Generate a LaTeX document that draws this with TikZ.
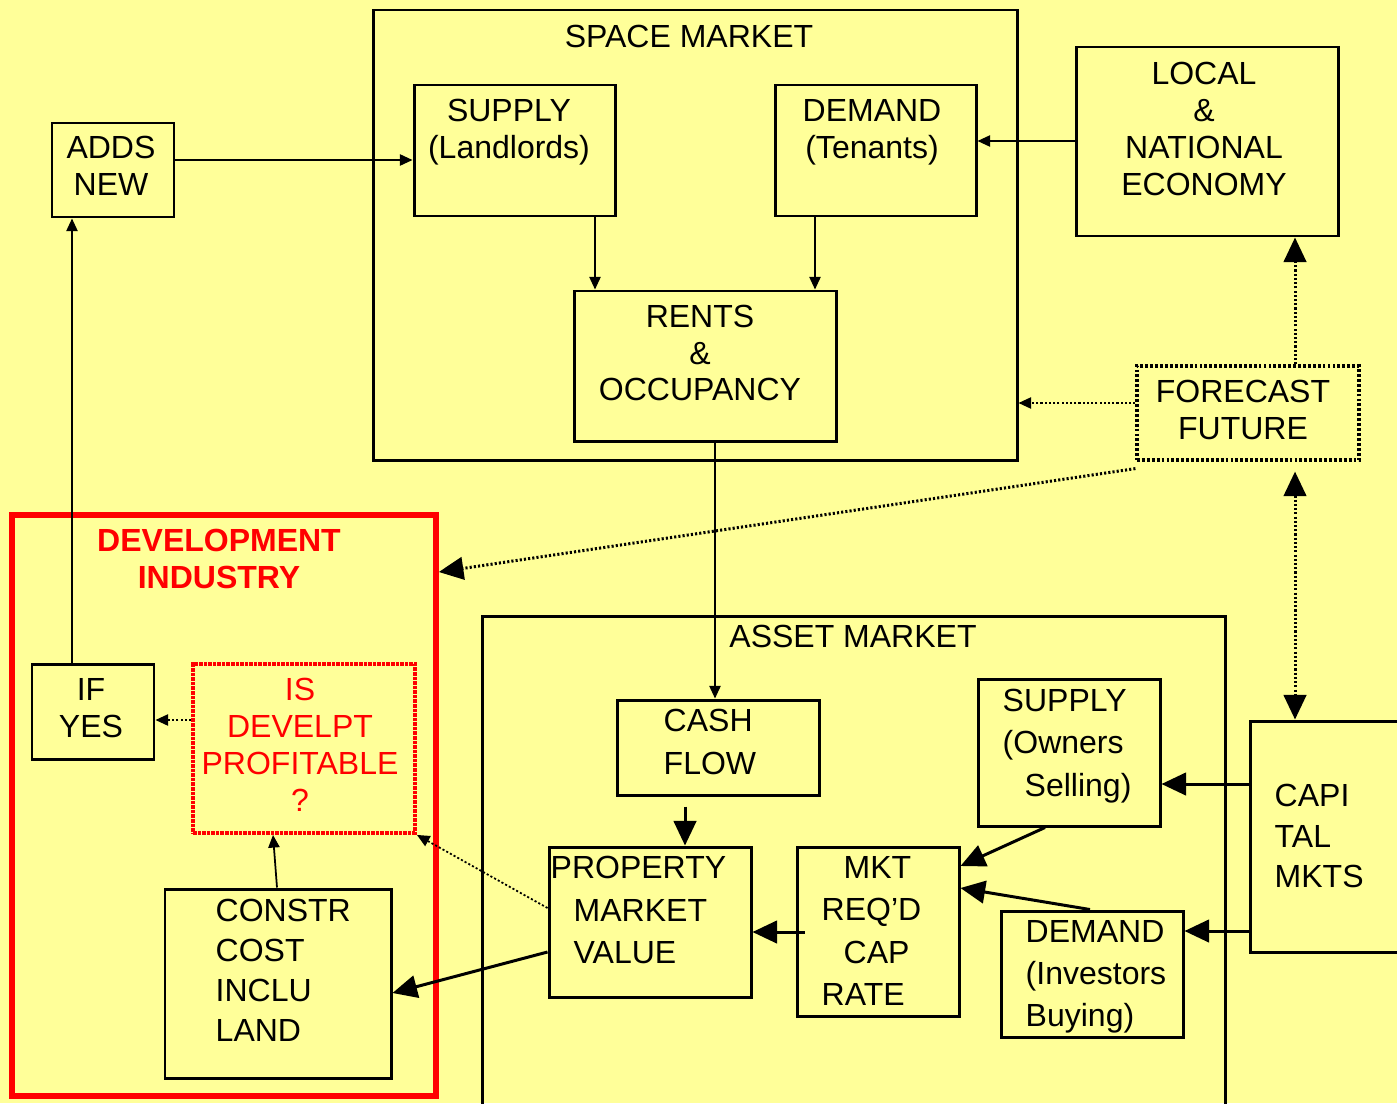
\documentclass[tikz,border=0pt]{standalone}
\usepackage{fontspec}
\setmainfont{Liberation Sans}
\usetikzlibrary{arrows.meta,fit}
\definecolor{sheetyellow}{RGB}{255,255,153}
\definecolor{devred}{RGB}{255,0,0}
\tikzset{
  box/.style={draw=black, line width=0.85pt, inner sep=0pt},
  dotbox/.style={draw=black, line width=0.9pt, dash pattern=on 0.8pt off 0.6pt, inner sep=0pt},
  redbox/.style={draw=devred, line width=1.6pt, inner sep=0pt},
  reddotbox/.style={draw=devred, line width=1.1pt, dash pattern=on 1pt off 0.3pt, inner sep=0pt},
  txt/.style={align=center, inner sep=0pt, font=\fontsize{9.1}{10.5}\selectfont},
  txtm/.style={align=left, inner sep=0pt, anchor=west, font=\fontsize{9.1}{11.4}\selectfont},
  txtw/.style={align=left, inner sep=0pt, anchor=west, font=\fontsize{9.1}{12}\selectfont},
  dotline/.style={dash pattern=on 0.6pt off 0.6pt},
  thin arrow/.style={line width=0.5pt, -{Triangle[length=3.6pt,width=3.2pt]}},
  big arrow/.style={line width=0.85pt, -{Triangle[length=7pt,width=6.4pt]}}
}

\begin{document}
\begin{tikzpicture}[x=0.01cm, y=-0.01cm]
  \useasboundingbox (0,0) rectangle (1397,1103);
  \fill[sheetyellow] (0,0) rectangle (1397,1103);

  % space market
  \node[box, fit={(373,10) (1017,460)}] (space) {};
  \node[txt] (space-t) at (689,36) {SPACE MARKET};
  \node[box, fit={(414,85) (615,216)}] (supL) {};
  \node[txt] (supL-t) at (509,132) {SUPPLY\\(Landlords)};
  \node[box, fit={(775,85) (976,216)}] (demT) {};
  \node[txt] (demT-t) at (872,132) {DEMAND\\(Tenants)};
  \node[box, fit={(574,291) (836,441)}] (rents) {};
  \node[txt] (rents-t) at (700,353) {RENTS\\\&\\OCCUPANCY};

  % outside boxes
  \node[box, fit={(1076,47) (1338,236)}] (local) {};
  \node[txt] (local-t) at (1204,129) {LOCAL\\\&\\NATIONAL\\ECONOMY};
  \node[box, fit={(52,123) (174,217)}] (adds) {};
  \node[txt] (adds-t) at (111,166) {ADDS\\NEW};
  \node[dotbox, fit={(1137,366) (1359,460)}] (forecast) {};
  \node[txt] (forecast-t) at (1243,410) {FORECAST\\FUTURE};

  % development industry
  \node[redbox, fit={(12,515) (436,1096)}] (devel) {};
  \node[txt, text=devred, font=\fontsize{9.1}{10.3}\selectfont\bfseries] (devel-t) at (219,559) {DEVELOPMENT\\INDUSTRY};
  \node[box, fit={(32,664) (154,759)}] (ifyes) {};
  \node[txt] (ifyes-t) at (91,708) {IF\\YES};
  \node[reddotbox, fit={(193,664) (415,833)}] (profit) {};
  \node[txt, text=devred] (profit-t) at (300,745) {IS\\DEVELPT\\PROFITABLE\\?};
  \node[box, fit={(165,889) (391,1078)}] (constr) {};
  \node[txtm] (constr-t) at (215,970) {CONSTR\\COST\\INCLU\\LAND};

  % asset market
  \node[box, fit={(482,616) (1225,1120)}] (asset) {};
  \node[txt] (asset-t) at (853,636) {ASSET MARKET};
  \node[box, fit={(617,700) (819,795)}] (cash) {};
  \node[txtw] (cash-t) at (663,742) {CASH\\FLOW};
  \node[box, fit={(549,847) (751,997)}] (prop) {};
  \node[txtw] (prop-t) at (550,910) {PROPERTY\\\hspace*{0.23cm}MARKET\\\hspace*{0.23cm}VALUE};
  \node[box, fit={(797,847) (959,1016)}] (mkt) {};
  \node[txtw] (mkt-t) at (821,931) {\hspace*{0.22cm}MKT\\REQ'D\\\hspace*{0.22cm}CAP\\RATE};
  \node[box, fit={(978,679) (1160,826)}] (supO) {};
  \node[txtw] (supO-t) at (1002,746) {SUPPLY\\(Owners\\\hspace*{0.22cm}Selling)};
  \node[box, fit={(1001,911) (1183,1037)}] (demI) {};
  \node[txtw] (demI-t) at (1025,977) {DEMAND\\(Investors\\Buying)};
  \node[box, fit={(1250,721) (1420,952)}] (capi) {};
  \node[txtm] (capi-t) at (1274,836) {CAPI\\TAL\\MKTS};

  % connectors
  \draw[thin arrow] (adds.east |- 0,160) -- (supL.west |- 0,160);
  \draw[thin arrow] (local.west |- 0,141) -- (demT.east |- 0,141);
  \draw[thin arrow] (supL.south -| 595,0) -- (rents.north -| 595,0);
  \draw[thin arrow] (demT.south -| 815,0) -- (rents.north -| 815,0);
  \draw[thin arrow] (rents.south -| 715,0) -- (cash.north -| 715,0);
  \draw[thin arrow] (ifyes.north -| 72,0) -- (adds.south -| 72,0);
  \draw[thin arrow, dotline] (profit.west |- 0,720) -- (ifyes.east |- 0,720);
  \draw[thin arrow] (constr.north -| 277,0) -- (profit.south -| 273,0);
  \draw[thin arrow, dotline] (prop.west |- 0,908) -- (profit.south east);
  \draw[big arrow] (prop.west |- 0,952) -- (constr.east |- 0,993);
  \draw[big arrow] (cash.south -| 685,0) ++(0,10) -- (prop.north -| 685,0);
  \draw[big arrow] (mkt.west |- 0,932) ++(9,0) -- (prop.east |- 0,932);
  \draw[big arrow] (supO.south -| 1045,0) -- (mkt.east |- 0,866);
  \draw[big arrow] (demI.north -| 1090,0) -- (mkt.east |- 0,888);
  \draw[big arrow] (capi.west |- 0,784) -- (supO.east |- 0,784);
  \draw[big arrow] (capi.west |- 0,931) -- (demI.east |- 0,931);
  \draw[big arrow, dotline] (forecast.north -| 1295,0) -- (local.south -| 1295,0);
  \draw[thin arrow, dotline] (forecast.west |- 0,403) -- (space.east |- 0,403);
  \draw[big arrow, dotline] (forecast.south west) ++(0,7) -- (devel.east |- 0,572);
  \draw[big arrow, dotline, {Triangle[length=7pt,width=6.4pt]}-{Triangle[length=7pt,width=6.4pt]}]
    (forecast.south -| 1295,0) ++(0,10) -- (capi.north -| 1295,0);
\end{tikzpicture}
\end{document}
